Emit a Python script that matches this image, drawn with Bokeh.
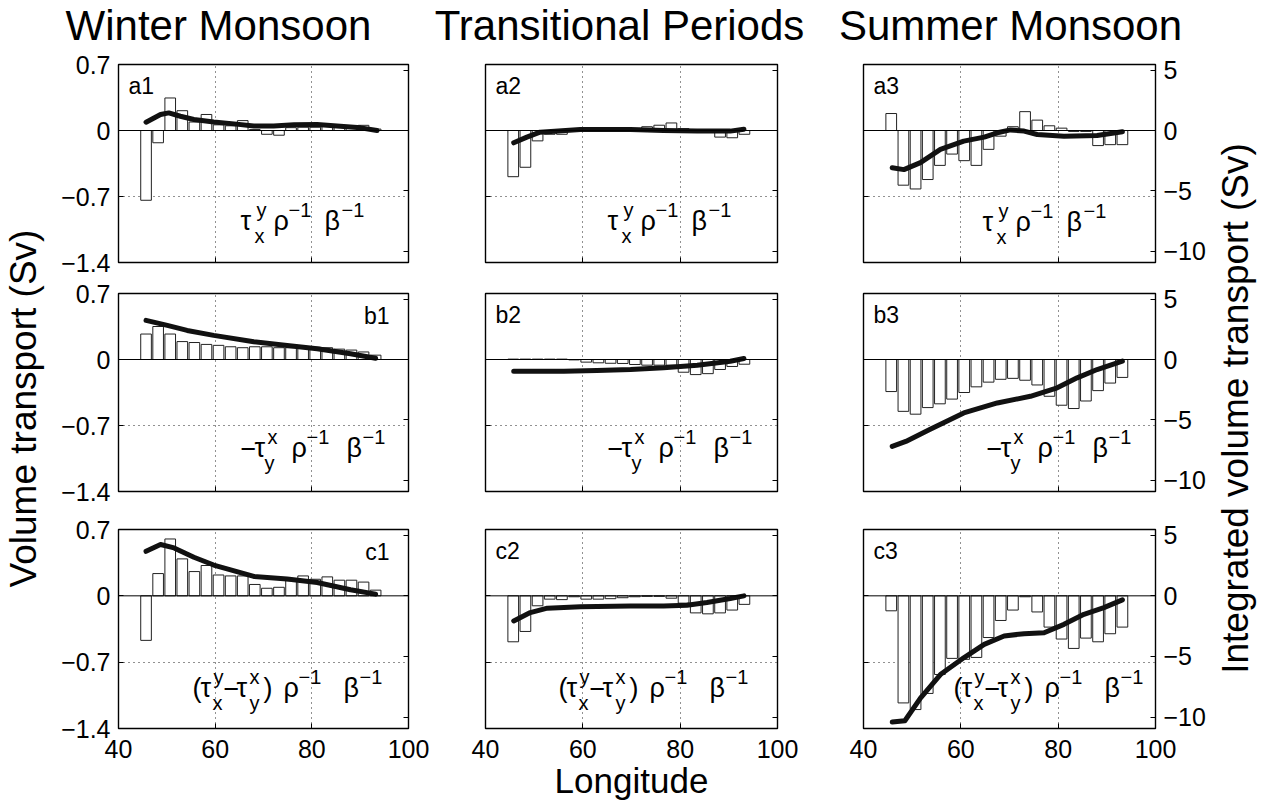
import math
from bokeh.plotting import figure
from bokeh.models import Range1d, LinearAxis, FixedTicker, Span, Label
from bokeh.layouts import row, column
from bokeh.embed import file_html
from bokeh.resources import INLINE
from bokeh.core.properties import value

FONT = "Liberation Sans"
# centre of the em box sits this far (in em) above the alphabetic baseline
MID = 0.347

# Longitude of each 2.5-degree bin centre
lon = [45.7, 48.2, 50.7, 53.2, 55.7, 58.2, 60.7, 63.2, 65.7, 68.2,
       70.7, 73.2, 75.7, 78.2, 80.7, 83.2, 85.7, 88.2, 90.7, 93.2]

seasons = ["Winter Monsoon", "Transitional Periods", "Summer Monsoon"]
season_x = [218, 619, 1010]

# ---- per-bin volume transport (Sv), left axis ----
winter_tyx = [-0.74, -0.13, 0.345, 0.21, 0.09, 0.17, 0.06, 0.05, 0.105, 0.01,
              -0.04, -0.05, 0.03, 0.035, 0.035, 0.05, 0.05, 0.05, 0.055, 0.015]
trans_tyx = [-0.49, -0.39, -0.11, -0.04, -0.04, -0.005, 0.004, 0.004, 0.004, 0.004,
             0.004, 0.04, 0.056, 0.08, 0.02, 0.004, -0.005, -0.07, -0.077, -0.04]
summer_tyx = [0.18, -0.58, -0.62, -0.52, -0.37, -0.25, -0.32, -0.37, -0.2, -0.06,
              0.04, 0.2, 0.11, 0.05, 0.025, -0.01, -0.01, -0.16, -0.15, -0.15]

winter_txy = [0.27, 0.35, 0.27, 0.19, 0.18, 0.16, 0.15, 0.135, 0.125, 0.135,
              0.135, 0.125, 0.125, 0.125, 0.13, 0.125, 0.11, 0.10, 0.08, 0.046]
trans_txy = [0.004, 0.004, 0.004, 0.004, 0.004, -0.004, -0.028, -0.035, -0.04, -0.042,
             -0.053, -0.06, -0.06, -0.06, -0.135, -0.16, -0.15, -0.106, -0.074, -0.05]
summer_txy = [-0.34, -0.55, -0.58, -0.51, -0.47, -0.42, -0.35, -0.29, -0.24, -0.21,
              -0.20, -0.22, -0.27, -0.39, -0.485, -0.52, -0.44, -0.33, -0.25, -0.19]

winter_curl = [-0.47, 0.235, 0.6, 0.39, 0.256, 0.32, 0.22, 0.21, 0.21, 0.12,
               0.08, 0.09, 0.16, 0.21, 0.175, 0.2, 0.165, 0.165, 0.145, 0.06]
trans_curl = [-0.485, -0.376, -0.105, -0.035, -0.04, -0.01, -0.035, -0.035, -0.03, -0.02,
              -0.01, -0.005, -0.005, -0.025, -0.077, -0.18, -0.19, -0.18, -0.15, -0.09]
summer_curl = [-0.158, -1.13, -1.2, -1.03, -0.83, -0.66, -0.67, -0.65, -0.44, -0.26,
               -0.15, -0.01, -0.17, -0.33, -0.456, -0.555, -0.446, -0.485, -0.4, -0.33]

# ---- integrated volume transport (Sv), right axis ----
winter_tyx_int_lon = [45.7, 48.7, 50.4, 52.8, 55.6, 59.7, 63.9, 68.0, 72.1, 76.3, 81.1, 85.9, 90.1, 93.5]
winter_tyx_int = [0.69, 1.32, 1.46, 1.18, 0.91, 0.71, 0.55, 0.38, 0.38, 0.47, 0.49, 0.36, 0.22, 0.0]
trans_tyx_int_lon = [45.8, 48.5, 51.2, 59.5, 69.8, 76.6, 83.5, 90.3, 93.1]
trans_tyx_int = [-1.02, -0.55, -0.14, 0.08, 0.08, 0.0, -0.05, -0.05, 0.11]
summer_tyx_int_lon = [45.9, 48.3, 51.7, 55.8, 60.6, 64.8, 67.5, 70.2, 73.0, 75.7, 81.2, 88.0, 93.2]
summer_tyx_int = [-3.08, -3.24, -2.66, -1.57, -0.88, -0.55, -0.19, 0.05, -0.05, -0.33, -0.47, -0.41, -0.11]

winter_txy_int_lon = [45.7, 50.1, 54.2, 59.7, 68.0, 74.9, 81.1, 88.0, 93.2]
winter_txy_int = [3.24, 2.83, 2.41, 2.0, 1.47, 1.16, 0.89, 0.47, 0.1]
trans_txy_int_lon = [45.8, 56.1, 62.9, 69.8, 76.6, 83.5, 90.3, 93.1]
trans_txy_int = [-0.97, -0.97, -0.91, -0.83, -0.69, -0.47, -0.14, 0.08]
summer_txy_int_lon = [45.9, 48.7, 53.5, 60.6, 67.5, 74.3, 79.8, 83.9, 88.0, 93.2]
summer_txy_int = [-7.2, -6.79, -5.82, -4.43, -3.6, -3.05, -2.35, -1.52, -0.83, -0.14]

winter_curl_int_lon = [45.7, 48.7, 51.5, 55.6, 59.7, 68.0, 74.9, 81.1, 88.0, 93.2]
winter_curl_int = [3.67, 4.23, 3.95, 3.18, 2.54, 1.6, 1.38, 1.1, 0.5, 0.14]
trans_curl_int_lon = [45.8, 49.2, 52.7, 59.5, 69.8, 76.6, 81.4, 85.5, 90.3, 93.1]
trans_curl_int = [-2.07, -1.38, -1.02, -0.91, -0.83, -0.83, -0.77, -0.55, -0.22, 0.0]
summer_curl_int_lon = [45.9, 48.5, 51.7, 55.8, 60.6, 64.8, 68.9, 73.0, 77.1, 81.2, 85.3, 89.4, 93.2]
summer_curl_int = [-10.41, -10.3, -8.43, -6.49, -5.11, -4.0, -3.31, -3.12, -3.04, -2.35, -1.52, -0.97, -0.33]

bars = [[winter_tyx, trans_tyx, summer_tyx],
        [winter_txy, trans_txy, summer_txy],
        [winter_curl, trans_curl, summer_curl]]
lines = [[(winter_tyx_int_lon, winter_tyx_int), (trans_tyx_int_lon, trans_tyx_int), (summer_tyx_int_lon, summer_tyx_int)],
         [(winter_txy_int_lon, winter_txy_int), (trans_txy_int_lon, trans_txy_int), (summer_txy_int_lon, summer_txy_int)],
         [(winter_curl_int_lon, winter_curl_int), (trans_curl_int_lon, trans_curl_int), (summer_curl_int_lon, summer_curl_int)]]
panel_names = [["a1", "a2", "a3"], ["b1", "b2", "b3"], ["c1", "c2", "c3"]]

x_ticks = [40, 60, 80, 100]
y_ticks = [-1.4, -0.7, 0, 0.7]
y_tick_text = {-1.4: "\u22121.4", -0.7: "\u22120.7", 0: "0", 0.7: "0.7"}
r_ticks = [-10, -5, 0, 5]
r_tick_text = {-10: "\u221210", -5: "\u22125", 0: "0", 5: "5"}

Y_LO, Y_HI = -1.4, 0.7
R_LO, R_HI = -10.94, 5.47

TITLE_H = 49
# (left border, frame, right border) per column; (top, frame, bottom) per row
COLS = [(60, 290, 38), (39, 292, 43), (43, 292, 57)]
ROWS = [(15, 198, 15), (16, 198, 19), (19, 199, 80)]

BIG = 27
SMALL = 20
TAG = 23
# formula pieces: (text, dx, dy, size) relative to the first glyph's left/baseline
F_A = [("\u03c4", 0, 0, BIG), ("y", 16, 14, SMALL), ("x", 14, -12, SMALL),
       ("\u03c1", 33, 0, BIG), ("\u22121", 48, 14, SMALL),
       ("\u03b2", 84, 0, BIG), ("\u22121", 101, 14, SMALL)]
F_B = [("\u2212", 0, 0, BIG), ("\u03c4", 14, 0, BIG), ("x", 27, 14, SMALL), ("y", 24, -12, SMALL),
       ("\u03c1", 51, 0, BIG), ("\u22121", 66, 14, SMALL),
       ("\u03b2", 106, 0, BIG), ("\u22121", 122, 14, SMALL)]
F_C = [("(", 0, 0, BIG), ("\u03c4", 8, 0, BIG), ("y", 21, 14, SMALL), ("x", 20, -12, SMALL),
       ("\u2212", 31, 0, BIG), ("\u03c4", 44, 0, BIG), ("x", 57, 14, SMALL), ("y", 57, -12, SMALL),
       (")", 71, 0, BIG), ("\u03c1", 91, 0, BIG), ("\u22121", 106, 14, SMALL),
       ("\u03b2", 151, 0, BIG), ("\u22121", 167, 14, SMALL)]
formulas = [F_A, F_B, F_C]
# formula anchor (px from frame left, baseline px from frame top)
formula_anchor = [[(122, 166), (122, 166), (119, 167)],
                  [(122, 164), (122, 164), (123, 164)],
                  [(74, 168), (73, 168), (90, 168)]]


def style_axis(ax, show_labels, size=25):
    ax.axis_line_color = None
    ax.major_tick_in = 5
    ax.major_tick_out = 0
    ax.major_tick_line_color = "black"
    ax.major_tick_line_width = 1
    ax.minor_tick_line_color = None
    ax.major_label_text_font = FONT
    if show_labels:
        ax.major_label_text_font_size = f"{size}px"
        ax.major_label_text_color = "black"
    else:
        ax.major_label_text_font_size = "0px"
        ax.major_label_text_color = None
        ax.major_label_standoff = 0


def text_label(x, y, dx, dy, txt, size, align="left"):
    # dy is where the alphabetic baseline goes (px, up positive)
    return Label(x=x, y=y, x_offset=dx, y_offset=dy + MID * size, text=txt,
                 text_align=align, text_baseline="middle",
                 text_font=FONT, text_font_size=f"{size}px", text_color="black")


def panel(r, c):
    bl, fw, br = COLS[c]
    bt, fh, bb = ROWS[r]
    p = figure(frame_width=fw, frame_height=fh,
               min_border_left=bl, min_border_right=br,
               min_border_top=bt, min_border_bottom=bb,
               x_range=Range1d(40, 100), y_range=Range1d(Y_LO, Y_HI),
               output_backend="svg", toolbar_location=None)
    p.extra_y_ranges = {"int": Range1d(R_LO, R_HI)}
    p.background_fill_color = "white"
    p.border_fill_color = "white"
    p.outline_line_color = "black"
    p.outline_line_width = 1.4

    xa = p.xaxis[0]
    xa.ticker = FixedTicker(ticks=x_ticks)
    style_axis(xa, r == 2)
    if r == 2:
        xa.major_label_standoff = 11
    if r == 2 and c == 1:
        xa.axis_label = "Longitude"
        xa.axis_label_text_font = FONT
        xa.axis_label_text_font_size = "35px"
        xa.axis_label_text_font_style = "normal"
        xa.axis_label_text_color = "black"
        xa.axis_label_standoff = 0

    ya = p.yaxis[0]
    ya.ticker = FixedTicker(ticks=y_ticks)
    ya.major_label_overrides = y_tick_text
    style_axis(ya, c == 0)
    if c == 0:
        ya.major_label_standoff = 8

    ra = LinearAxis(y_range_name="int", ticker=FixedTicker(ticks=r_ticks),
                    major_label_overrides=r_tick_text)
    style_axis(ra, c == 2)
    if c == 2:
        ra.major_label_standoff = 8
    p.add_layout(ra, "right")

    p.xgrid.ticker = FixedTicker(ticks=[60, 80])
    p.ygrid.ticker = FixedTicker(ticks=[-0.7])
    for g in (p.xgrid[0], p.ygrid[0]):
        g.grid_line_color = "#222222"
        g.grid_line_dash = "1 4"
        g.grid_line_width = 1

    p.vbar(x=lon, top=bars[r][c], bottom=0, width=2.2,
           fill_color="white", line_color="#222222", line_width=1)
    p.add_layout(Span(location=0, dimension="width", line_color="black", line_width=1))
    lx, ly = lines[r][c]
    p.line(lx, ly, y_range_name="int", line_color="#111111", line_width=5,
           line_join="round", line_cap="round")

    # panel tag
    name = panel_names[r][c]
    if name in ("b1", "c1"):
        p.add_layout(text_label(100, Y_HI, -19, -30, name, TAG, align="right"))
    else:
        p.add_layout(text_label(40, Y_HI, 10, -29, name, TAG))

    # wind-stress term
    ax_px, ay_px = formula_anchor[r][c]
    x0 = 40 + ax_px * 60.0 / fw
    y0 = Y_HI - ay_px * (Y_HI - Y_LO) / fh
    for txt, dx, dy, size in formulas[r]:
        p.add_layout(text_label(x0, y0, dx, dy, txt, size))
    return p


def blank(w, h):
    p = figure(frame_width=w, frame_height=h, x_range=Range1d(0, w), y_range=Range1d(0, h),
               x_axis_type=None, y_axis_type=None, min_border=0,
               output_backend="svg", toolbar_location=None)
    p.outline_line_color = None
    p.background_fill_color = "white"
    p.border_fill_color = "white"
    p.grid.visible = False
    return p


TITLE_SIZE = 42
title_fig = blank(1267, TITLE_H)
title_fig.text(x=season_x, y=[TITLE_H - 40 + MID * TITLE_SIZE] * 3, text=seasons,
               text_font=value(FONT), text_font_size=f"{TITLE_SIZE}px",
               text_align="center", text_baseline="middle", text_color="black")

body_h = 808 - TITLE_H
label_y = body_h - (408 - TITLE_H)
left_fig = blank(58, body_h)
left_fig.text(x=[23], y=[label_y], text=["Volume transport (Sv)"], angle=math.pi / 2,
              text_font=value(FONT), text_font_size="37px", text_align="center",
              text_baseline="middle", text_color="black")

right_fig = blank(55, body_h)
right_fig.text(x=[23], y=[label_y], text=["Integrated volume transport (Sv)"],
               angle=math.pi / 2,
               text_font=value(FONT), text_font_size="37px", text_align="center",
               text_baseline="middle", text_color="black")

grid = column([row([panel(r, c) for c in range(3)], spacing=0) for r in range(3)], spacing=0)
layout = column([title_fig, row([left_fig, grid, right_fig], spacing=0)], spacing=0)

open("out.html", "w").write(file_html(layout, INLINE))
